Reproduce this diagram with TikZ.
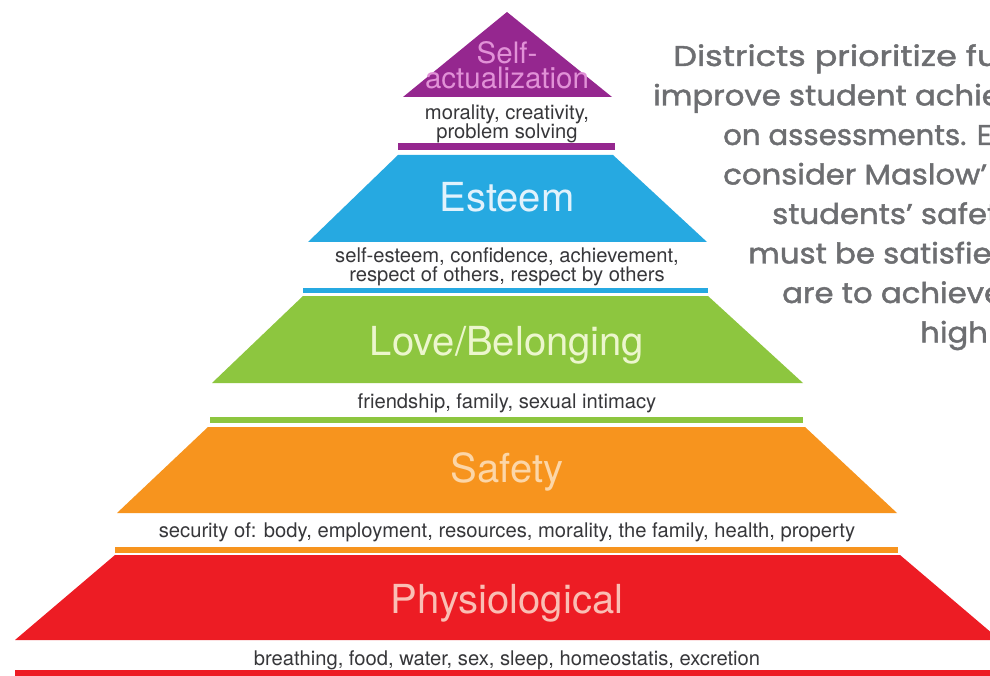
\documentclass[tikz,border=0pt]{standalone}
\usepackage{fontspec}
\setmainfont{TeX Gyre Heros}
\newfontfamily\rfont[FakeBold=1.5,FakeStretch=1.08]{Poppins}
\definecolor{purp}{RGB}{149,39,143}
\definecolor{blu}{RGB}{38,169,225}
\definecolor{grn}{RGB}{141,198,63}
\definecolor{org}{RGB}{247,148,30}
\definecolor{rd}{RGB}{237,28,36}
\definecolor{tgray}{RGB}{55,55,58}
\definecolor{sgray}{RGB}{109,110,113}
\definecolor{tpurp}{RGB}{225,145,215}
\definecolor{tblu}{RGB}{225,242,252}
\definecolor{tgrn}{RGB}{236,246,205}
\definecolor{torg}{RGB}{252,214,168}
\definecolor{trd}{RGB}{250,190,180}
\begin{document}
\begin{tikzpicture}[x=1pt,y=-1pt,
  big/.style={font=\fontsize{40}{40}\selectfont, anchor=base, inner sep=0pt},
  sa/.style={font=\fontsize{29.5}{30}\selectfont, anchor=base, inner sep=0pt, text=tpurp},
  small/.style={font=\fontsize{20.2}{20}\selectfont, text=tgray, anchor=base, inner sep=0pt},
  side/.style={font=\rfont\fontsize{28.5}{30}\selectfont, text=sgray, anchor=base west, inner sep=0pt}]
\useasboundingbox (0,0) rectangle (990,676);
\fill[white] (0,0) rectangle (990,676);
% layers
\fill[purp] (507,12) -- (612,97) -- (403,97) -- cycle;
\fill[purp] (398,143) rectangle (615,150);
\fill[blu] (398,155) -- (613,155) -- (707,242) -- (308,242) -- cycle;
\fill[blu] (303,288) rectangle (708,293);
\fill[grn] (303,296) -- (708,296) -- (803,383) -- (212,383) -- cycle;
\fill[grn] (210,417) rectangle (803,423);
\fill[org] (208,427) -- (805,427) -- (897,513) -- (117,513) -- cycle;
\fill[org] (115,547) rectangle (898,553);
\fill[rd] (115,555) -- (900,555) -- (1000,640) -- (15,640) -- cycle;
\fill[rd] (15,670) rectangle (995,677);
% labels
\node[sa, text depth=0pt] (sa1) at (507,64) {Self-};
\node[sa] (sa2) at (507,89) {actualization};
\node[small] (sad1) at (507,120) {morality, creativity,};
\node[small] (sad2) at (507,139) {problem solving};
\node[big, text=tblu] (est) at (507,212) {Esteem};
\node[small] (estd1) at (507,262) {self-esteem, confidence, achievement,};
\node[small] (estd2) at (507,281) {respect of others, respect by others};
\node[big, text=tgrn] (love) at (507,355) {Love/Belonging};
\node[small] (loved) at (507,408) {friendship, family, sexual intimacy};
\node[big, text=torg] (saf) at (507,482) {Safety};
\node[small] (safd) at (507,537) {security of: body, employment, resources, morality, the family, health, property};
\node[big, text=trd] (phy) at (507,613) {Physiological};
\node[small] (phyd) at (507,665) {breathing, food, water, sex, sleep, homeostatis, excretion};
% side text
\node[side] (s1) at (673,66) {\scalebox{1.09}[1]{Districts prioritize fu}};
\node[side] (s2) at (653,105.5) {improve student achie};
\node[side] (s3) at (723,145) {\scalebox{0.95}[1]{on assessments. E}};
\node[side] (s4) at (723,184.5) {consider Maslow’};
\node[side] (s5) at (772,224) {students’ safet};
\node[side] (s6) at (748,263.5) {must be satisfie};
\node[side] (s7) at (782,303) {are to achieve};
\node[side] (s8) at (920,342.5) {high};
\end{tikzpicture}
\end{document}
